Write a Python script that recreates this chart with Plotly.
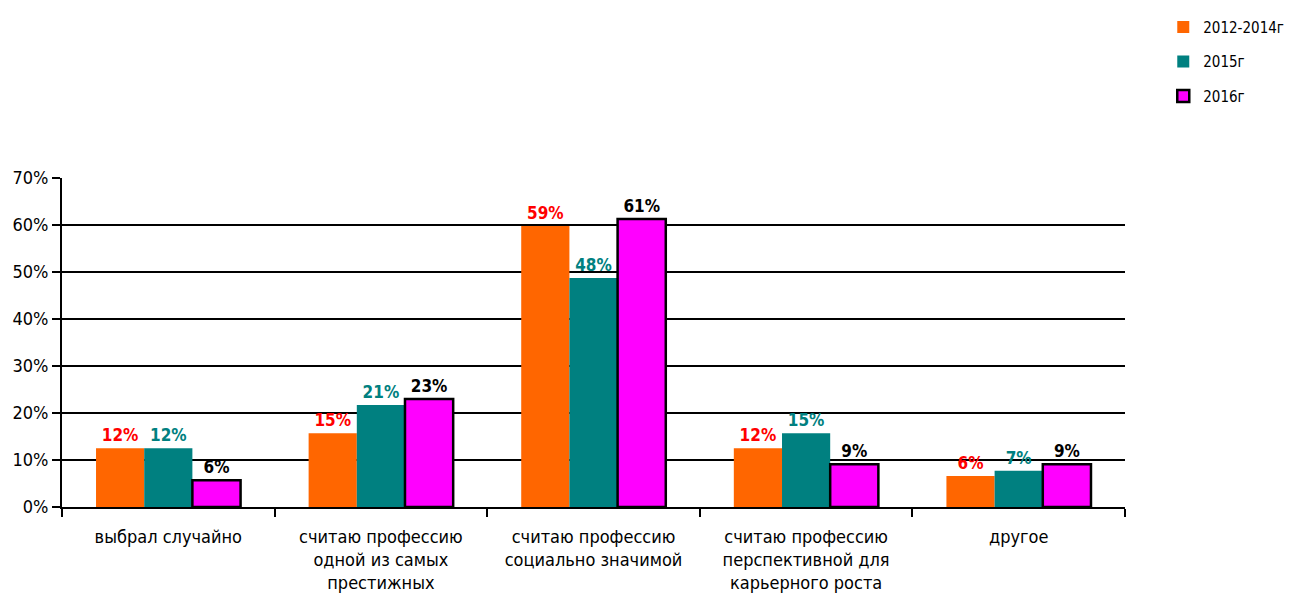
import plotly.graph_objects as go

categories = [
    "выбрал случайно",
    "считаю профессию<br>одной из самых<br>престижных",
    "считаю профессию<br>социально значимой",
    "считаю профессию<br>перспективной для<br>карьерного роста",
    "другое",
]
series_names = ["2012-2014г", "2015г", "2016г"]
values_2012_2014 = [0.125, 0.157, 0.598, 0.125, 0.066]
values_2015 = [0.125, 0.217, 0.487, 0.157, 0.077]
values_2016 = [0.057, 0.230, 0.613, 0.091, 0.091]
labels_2012_2014 = ["12%", "15%", "59%", "12%", "6%"]
labels_2015 = ["12%", "21%", "48%", "15%", "7%"]
labels_2016 = ["6%", "23%", "61%", "9%", "9%"]
y_ticks = [0, 0.1, 0.2, 0.3, 0.4, 0.5, 0.6, 0.7]

FONT = "DejaVu Sans Condensed, Liberation Sans Narrow, Arial Narrow, sans-serif"

series = [
    (series_names[0], values_2012_2014, labels_2012_2014, "#ff6600", "#ff0000", 0),
    (series_names[1], values_2015, labels_2015, "#008080", "#008080", 0),
    (series_names[2], values_2016, labels_2016, "#ff00ff", "#000000", 2.5),
]

fig = go.Figure()
for i, (name, vals, labs, color, text_color, lw) in enumerate(series):
    fig.add_trace(
        go.Bar(
            x=categories,
            y=vals,
            name=name,
            text=labs,
            textposition="outside",
            cliponaxis=False,
            textfont=dict(family=FONT, size=17, color=text_color, weight="bold"),
            marker=dict(color=color, line=dict(color="black", width=lw)),
            legendgroup=str(i),
        )
    )

# the page body adds an 8px offset, margins are set to compensate
fig.update_layout(
    barmode="group",
    bargap=0.32,
    bargroupgap=0,
    width=1300,
    height=603,
    plot_bgcolor="white",
    paper_bgcolor="white",
    font=dict(family=FONT, size=16, color="black"),
    margin=dict(l=54, r=183, t=170, b=104, autoexpand=False),
    xaxis=dict(
        tickson="boundaries",
        ticks="outside",
        ticklen=8,
        tickwidth=2,
        tickcolor="black",
        ticklabelstandoff=12,
        showline=True,
        linecolor="black",
        linewidth=2,
        automargin=False,
        tickfont=dict(family=FONT, size=18),
    ),
    yaxis=dict(
        range=[0, 0.7],
        tickvals=y_ticks,
        tickformat=".0%",
        ticks="outside",
        ticklen=8,
        tickwidth=2,
        tickcolor="black",
        showgrid=True,
        gridcolor="black",
        gridwidth=2,
        showline=True,
        linecolor="black",
        linewidth=2,
        zeroline=False,
        automargin=False,
        tickfont=dict(family=FONT, size=18),
    ),
    legend=dict(
        x=1.036,
        y=1.508,
        xanchor="left",
        yanchor="top",
        tracegroupgap=12,
        font=dict(family=FONT, size=15),
        itemwidth=30,
    ),
)

fig.write_html("out.html")
